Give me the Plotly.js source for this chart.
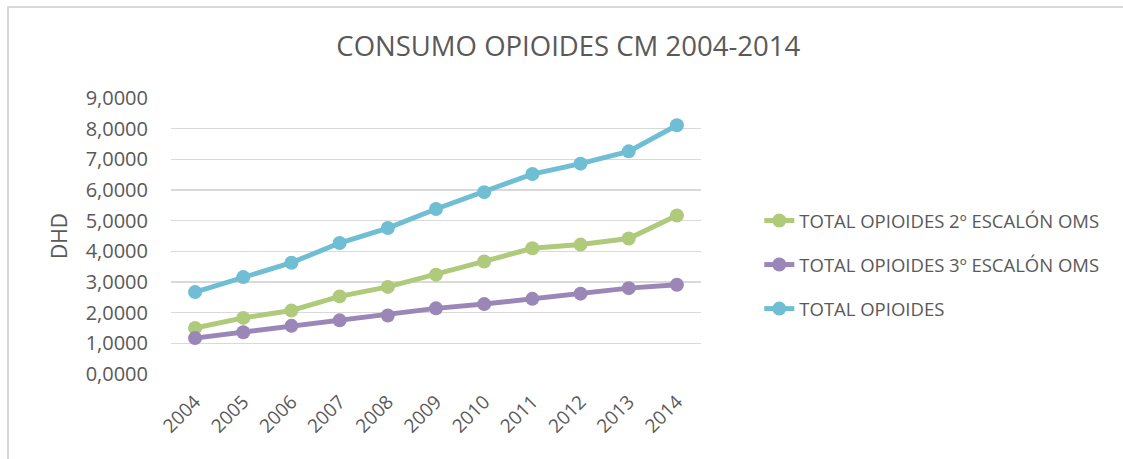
<!DOCTYPE html>
<html>
<head>
<meta charset="utf-8">
<script src="https://cdn.plot.ly/plotly-3.0.1.min.js"></script>
<style>
  html, body { margin: 0; padding: 0; background: #fff; }
  #wrap { position: relative; width: 1123px; height: 459px; overflow: hidden; }
  #frame { position: absolute; left: 7px; top: 6px; width: 1300px; height: 600px;
           border-left: 2px solid #d9d9d9; border-top: 2px solid #d9d9d9; pointer-events: none; }
  #chart { position: absolute; left: 0; top: 0; width: 1123px; height: 459px; }
</style>
</head>
<body>
<div id="wrap">
  <div id="chart"></div>
  <div id="frame"></div>
</div>
<script>
const years = ["2004","2005","2006","2007","2008","2009","2010","2011","2012","2013","2014"];
const escalon2 = [1.50, 1.83, 2.07, 2.53, 2.84, 3.24, 3.67, 4.10, 4.22, 4.42, 5.17];
const escalon3 = [1.17, 1.36, 1.57, 1.75, 1.91, 2.14, 2.28, 2.45, 2.62, 2.80, 2.91];
const totalOp = [2.67, 3.16, 3.63, 4.27, 4.76, 5.38, 5.93, 6.52, 6.86, 7.26, 8.11];
const seriesNames = ["TOTAL OPIOIDES 2º ESCALÓN OMS", "TOTAL OPIOIDES 3º ESCALÓN OMS", "TOTAL OPIOIDES"];
const yTickVals = [0,1,2,3,4,5,6,7,8,9];
const yTickText = ["0,0000","1,0000","2,0000","3,0000","4,0000","5,0000","6,0000","7,0000","8,0000","9,0000"];

const colors = ["#afca7a", "#9b86b8", "#6fbed3"];
const FONT = "Open Sans, sans-serif";
const TXT = "#595959";

function tr(y, i) {
  return {
    x: years, y: y, name: seriesNames[i], type: "scatter", mode: "lines+markers",
    legendgroup: "g" + i,
    line: { color: colors[i], width: 5 },
    marker: { color: colors[i], size: 14 }
  };
}
const data = [tr(escalon2, 0), tr(escalon3, 1), tr(totalOp, 2)];

const layout = {
  width: 1123, height: 459,
  margin: { l: 171, r: 422, t: 98, b: 85 },
  paper_bgcolor: "rgba(0,0,0,0)", plot_bgcolor: "#fff",
  font: { family: FONT, color: TXT },
  title: { text: "CONSUMO OPIOIDES CM 2004-2014", font: { size: 27.5, color: TXT, family: FONT },
           x: 0.506, xanchor: "center", y: 0.9, yanchor: "middle" },
  xaxis: {
    type: "category", range: [-0.5, 10.5], tickangle: -45,
    tickfont: { size: 19, color: TXT }, showgrid: false,
    showline: false, zeroline: false, ticks: "", ticklabelstandoff: 12
  },
  yaxis: {
    range: [0, 9], tickvals: yTickVals, ticktext: yTickText,
    tickfont: { size: 20, color: TXT }, gridcolor: "#d9d9d9", gridwidth: 1.5,
    zeroline: false, showline: false, ticks: "", ticklabelstandoff: 22,
    title: { text: "DHD", font: { size: 21, color: TXT }, standoff: 12 }
  },
  showlegend: true,
  legend: { x: 1.11, xanchor: "left", y: 0.395, yanchor: "middle",
            font: { size: 18.5, color: TXT }, tracegroupgap: 17, bgcolor: "rgba(0,0,0,0)" }
};

Plotly.newPlot("chart", data, layout, { displayModeBar: false, staticPlot: true });
</script>
</body>
</html>
